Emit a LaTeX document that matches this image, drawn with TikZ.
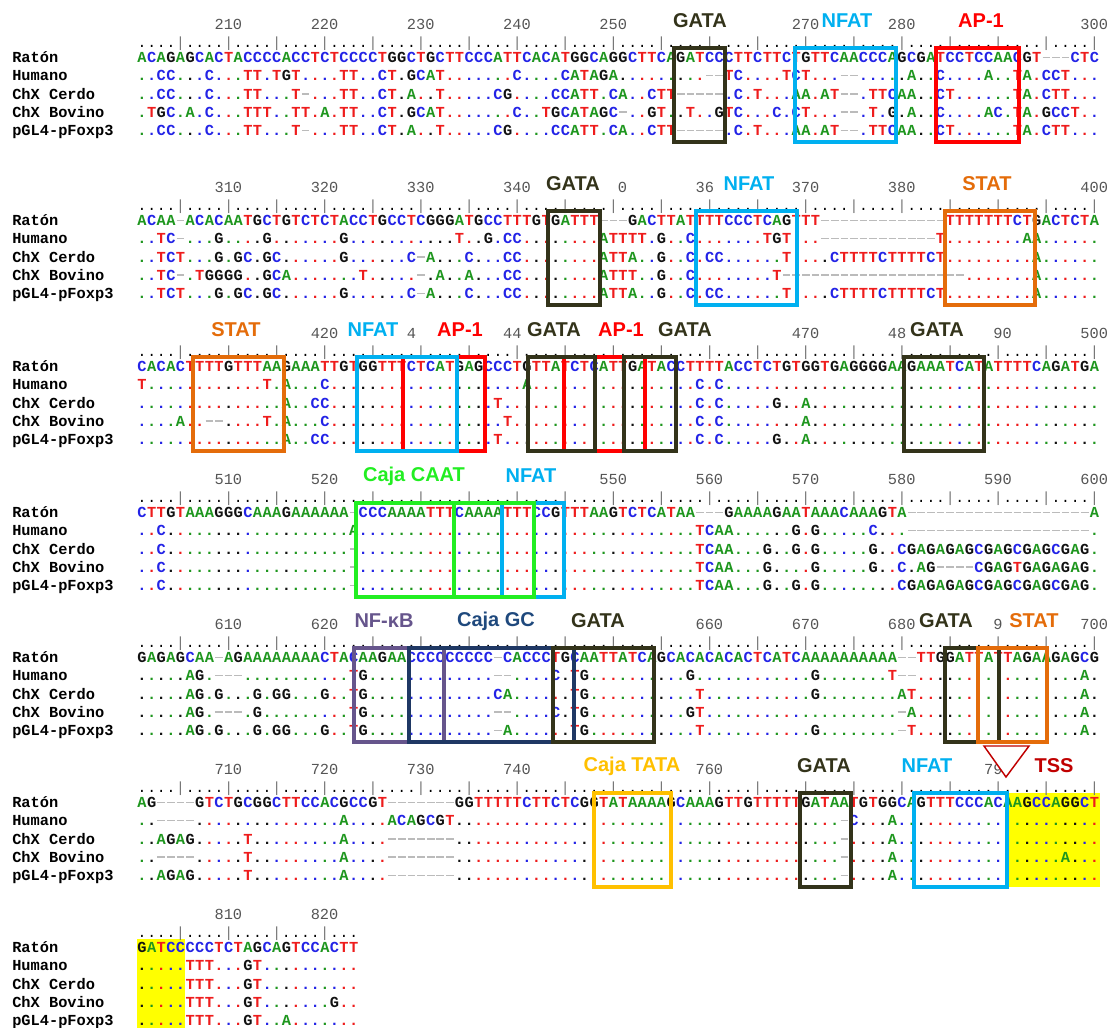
\documentclass[tikz,border=0pt]{standalone}
\usepackage{fontspec}
\usepackage{xcolor}
\usepackage{tikz}
\usetikzlibrary{positioning}
\setmainfont{Liberation Sans}
\newfontfamily\seqfont{Liberation Mono}

% nucleotide colours (ClustalX-like)
\definecolor{ntA}{HTML}{1E961E}
\definecolor{ntC}{HTML}{2323E6}
\definecolor{ntG}{HTML}{111111}
\definecolor{ntT}{HTML}{EE1C1C}
\definecolor{gapgray}{HTML}{BBBBBB}
\definecolor{rulegray}{HTML}{777777}
\definecolor{numgray}{HTML}{555555}
% binding-site colours
\definecolor{gata}{HTML}{33331A}
\definecolor{nfat}{HTML}{00B0F0}
\definecolor{apone}{HTML}{FF0000}
\definecolor{stat}{HTML}{E46C0A}
\definecolor{caat}{HTML}{22EE22}
\definecolor{nfkb}{HTML}{66558C}
\definecolor{gcbox}{HTML}{1F3864}
\definecolor{gctext}{HTML}{1F497D}
\definecolor{tata}{HTML}{FFC000}
\definecolor{tss}{HTML}{C00000}
\definecolor{hilite}{HTML}{FFFF00}

\ExplSyntaxOn
\dim_new:N \l_aln_w_dim
\dim_set:Nn \l_aln_w_dim { 7.215pt }
\str_new:N \l_aln_ref_str
\str_new:N \l_aln_row_str
\tl_new:N \l_aln_c_tl
\tl_new:N \l_aln_r_tl
\tl_new:N \l_aln_col_tl
\cs_new_protected:Npn \aln_setcol:n #1
  {
    \str_case:nnF {#1}
      {
        { A } { \tl_set:Nn \l_aln_col_tl { ntA } }
        { C } { \tl_set:Nn \l_aln_col_tl { ntC } }
        { T } { \tl_set:Nn \l_aln_col_tl { ntT } }
      }
      { \tl_set:Nn \l_aln_col_tl { ntG } }
  }
\cs_generate_variant:Nn \aln_setcol:n { V }
% one row: dots take the colour of the reference base
\NewDocumentCommand \alnrow { m m }
  {
    \str_set:Nn \l_aln_ref_str {#1}
    \str_set:Nn \l_aln_row_str {#2}
    \int_step_inline:nn { \str_count:N \l_aln_row_str }
      {
        \tl_set:Nx \l_aln_c_tl { \str_item:Nn \l_aln_row_str {##1} }
        \tl_set:Nx \l_aln_r_tl { \str_item:Nn \l_aln_ref_str {##1} }
        \str_if_eq:VnTF \l_aln_c_tl { . }
          { \aln_setcol:V \l_aln_r_tl }
          { \aln_setcol:V \l_aln_c_tl }
        \str_if_eq:VnTF \l_aln_c_tl { - }
          {
            \makebox [ \l_aln_w_dim ] [ c ]
              { \color { gapgray } \rule [ 0.28em ] { 0.5em } { 0.11em } }
          }
          {
            \makebox [ \l_aln_w_dim ] [ c ]
              { \color { \l_aln_col_tl } \l_aln_c_tl }
          }
      }
  }
% ruler: ....|....|
\NewDocumentCommand \alnruler { m }
  {
    \int_step_inline:nn {#1}
      {
        \int_compare:nNnTF { \int_mod:nn {##1} { 5 } } = { 0 }
          { \makebox [ \l_aln_w_dim ] [ c ] { \color { rulegray } | } }
          { \makebox [ \l_aln_w_dim ] [ c ] { . } }
      }
  }
\ExplSyntaxOff

\tikzset{
  seqrow/.style={anchor=base west, inner sep=0pt,
    font=\seqfont\bfseries\fontsize{11.5}{12}\selectfont},
  seqname/.style={anchor=base west, inner sep=0pt,
    font=\seqfont\bfseries\fontsize{11.5}{12}\selectfont, text=black},
  rulerrow/.style={anchor=base west, inner sep=0pt,
    font=\seqfont\fontsize{11}{12}\selectfont},
  rulernum/.style={inner sep=0pt, text=numgray,
    font=\seqfont\fontsize{11.5}{12}\selectfont},
  tfbox/.style={line width=2.6pt},
  tflabel/.style={font=\bfseries\fontsize{15}{16}\selectfont,
    fill=white, inner xsep=2pt, inner ysep=1pt},
  tssmark/.style={draw=tss, fill=white, line width=1.1pt, line join=miter},
  hibox/.style={fill=hilite, draw=none},
}

% block: id, y of Raton row, length, five rows
\newcommand\seqblock[8]{%
  \node[rulerrow] (#1ruler) at (137,#2-11) {\alnruler{#3}};
  \node[seqname] (#1nr) at (12,#2+4.5)       {Ratón};
  \node[seqname] (#1nh) at (12,#2+22.75)     {Humano};
  \node[seqname] (#1nc) at (12,#2+41)        {ChX Cerdo};
  \node[seqname] (#1nb) at (12,#2+59.25)     {ChX Bovino};
  \node[seqname] (#1np) at (12,#2+77.5)      {pGL4-pFoxp3};
  \node[seqrow]  (#1sr) at (137,#2+4.5)      {\alnrow{#4}{#4}};
  \node[seqrow]  (#1sh) at (137,#2+22.75)    {\alnrow{#4}{#5}};
  \node[seqrow]  (#1sc) at (137,#2+41)       {\alnrow{#4}{#6}};
  \node[seqrow]  (#1sb) at (137,#2+59.25)    {\alnrow{#4}{#7}};
  \node[seqrow]  (#1sp) at (137,#2+77.5)     {\alnrow{#4}{#8}};
}
% ruler number over column k of a block
\newcommand\colx[1]{137+(#1-0.5)*9.62}

\begin{document}
\begin{tikzpicture}[x=0.75pt, y=-0.75pt]
\useasboundingbox (0,0) rectangle (1108,1028);

% highlighted region after the TSS
\fill[hibox] (1005,793) rectangle (1100,887);
\fill[hibox] (137,939) rectangle (185,1028);

% alignment blocks
\seqblock{b1}{58}{100}
  {ACAGAGCACTACCCCACCTCTCCCCTGGCTGCTTCCCATTCACATGGCAGGCTTCAGATCCCTTCTTCTGTTCAACCCAGCGATCCTCCAACGT---CTC}
  {..CC...C...TT.TGT....TT..CT.GCAT.......C....CATAGA.........--TC....TCT...--.....A..C....A..TA.CCT...}
  {..CC...C...TT...T-...TT..CT.A..T.....CG....CCATT.CA..CTT-----.C.T...AA.AT--.TTCAA..CT......TA.CTT...}
  {.TGC.A.C...TTT..TT.A.TT..CT.GCAT.......C..TGCATAGC-..GT..T..GTC...C.CT...--.T.G.A..C....AC.TA.GCCT..}
  {..CC...C...TT...T-...TT..CT.A..T.....CG....CCATT.CA..CTT-----.C.T...AA.AT--.TTCAA..CT......TA.CTT...}

\seqblock{b2}{221}{100}
  {ACAA-ACACAATGCTGTCTCTACCTGCCTCGGGATGCCTTTGTGATTT---GACTTATTTTCCCTCAGTTT-------------TTTTTTTCTGACTCTA}
  {..TC-...G....G.......G...........T..G.CC........ATTTT.G..C.......TGT...------------T........AA......}
  {..TCT...G.GC.GC......G......C-A...C...CC........ATTA..G..C.CC......T....CTTTTCTTTTCT.........A......}
  {..TC-.TGGGG..GCA.......T.....-.A..A...CC........ATTT..G..C........T-------------------.......A......}
  {..TCT...G.GC.GC......G......C-A...C...CC........ATTA..G..C.CC......T....CTTTTCTTTTCT.........A......}

\seqblock{b3}{367}{100}
  {CACACTTTTGTTTAAGAAATTGTGGTTTCTCATGAGCCCTGTTATCTCATTGATACCTTTTACCTCTGTGGTGAGGGGAAGAAATCATATTTTCAGATGA}
  {T............T.A...C....................A.................C.C.......................................}
  {...............A..CC.................T....................C.C.....G..A..............................}
  {....A..--....T.A...C..................T...................C.C........A..............................}
  {...............A..CC.................T....................C.C.....G..A..............................}

\seqblock{b4}{513}{100}
  {CTTGTAAAGGGCAAAGAAAAAA-CCCAAAATTTCAAAATTTCCGTTTAAGTCTCATAA---GAAAAGAATAAACAAAGTA-------------------A}
  {..C...................A...................................TCAA......G.G.....C...-------------------.}
  {..C...................-...................................TCAA...G..G.G.....G..CGAGAGAGCGAGCGAGCGAG.}
  {..C...................-...................................TCAA...G....G.....G..C.AG----CGAGTGAGAGAG.}
  {..C...................-...................................TCAA...G..G.G........CGAGAGAGCGAGCGAGCGAG.}

\seqblock{b5}{658}{100}
  {GAGAGCAA-AGAAAAAAAACTACAAGAACCCCCCCCC-CACCCTGCAATTATCAGCACACACACTCATCAAAAAAAAAA--TTGGATTATTAGAAGAGCG}
  {.....AG.---...........TG.............--....C.TG..........G............G.......T--.................A.}
  {.....AG.G...G.GG...G..TG.............CA......TG...........T...........G........AT.................A.}
  {.....AG.---.G.........TG.............--....C.TG..........GT....................-A.................A.}
  {.....AG.G...G.GG...G..TG.............-A......TG...........T...........G........-T.................A.}

\seqblock{b6}{803}{100}
  {AG----GTCTGCGGCTTCCACGCCGT-------GGTTTTTCTTCTCGGTATAAAAGCAAAGTTGTTTTTGATAATGTGGCAGTTTCCCACAAGCCAGGCT}
  {..----...............A....ACAGCGT........................................-C...A.....................}
  {..AGAG.....T.........A....-------........................................-....A.....................}
  {..----.....T.........A....-------........................................-....A.................A...}
  {..AGAG.....T.........A....-------........................................-....A.....................}

\seqblock{b7}{948}{23}
  {GATCCCCCTCTAGCAGTCCACTT}
  {.....TTT...GT..........}
  {.....TTT...GT..........}
  {.....TTT...GT.......G..}
  {.....TTT...GT..A.......}

% ruler numbers (as far as they show past the site labels)
\foreach \k/\t in {10/210, 20/220, 30/230, 40/240, 50/250, 70/270, 80/280, 100/300}
  \node[rulernum] (b1num\k) at ({\colx{\k}},24) {\t};
\foreach \k/\t in {10/310, 20/320, 30/330, 40/340, 50/{\phantom{35}0},
                   60/{36\phantom{0}}, 70/370, 80/380, 100/400}
  \node[rulernum] (b2num\k) at ({\colx{\k}},187) {\t};
\foreach \k/\t in {20/420, 30/{4\phantom{30}}, 40/{44\phantom{0}}, 70/470,
                   80/{48\phantom{0}}, 90/{\phantom{4}90}, 100/500}
  \node[rulernum] (b3num\k) at ({\colx{\k}},333) {\t};
\foreach \k/\t in {10/510, 20/520, 50/550, 60/560, 70/570, 80/580, 90/590, 100/600}
  \node[rulernum] (b4num\k) at ({\colx{\k}},479) {\t};
\foreach \k/\t in {10/610, 20/620, 60/660, 70/670, 80/680,
                   90/{\phantom{6}9\phantom{0}}, 100/700}
  \node[rulernum] (b5num\k) at ({\colx{\k}},624) {\t};
\foreach \k/\t in {10/710, 20/720, 30/730, 40/740, 60/760, 90/{79\phantom{0}}}
  \node[rulernum] (b6num\k) at ({\colx{\k}},769) {\t};
\foreach \k/\t in {10/810, 20/820}
  \node[rulernum] (b7num\k) at ({\colx{\k}},914) {\t};

% binding-site boxes, block 1
\draw[tfbox, gata]  (674,48) rectangle (725,142);
\draw[tfbox, nfat]  (795,48) rectangle (896,142);
\draw[tfbox, apone] (936,48) rectangle (1019,142);

% block 2
\draw[tfbox, gata]  (548,211) rectangle (600,305);
\draw[tfbox, nfat]  (696,211) rectangle (797,305);
\draw[tfbox, stat]  (945,211) rectangle (1035,305);

% block 3
\draw[tfbox, stat]  (193,357) rectangle (284,451);
\draw[tfbox, apone] (403,357) rectangle (485,451);
\draw[tfbox, nfat]  (357,357) rectangle (457,451);
\draw[tfbox, apone] (564,357) rectangle (645,451);
\draw[tfbox, gata]  (528,357) rectangle (595,451);
\draw[tfbox, gata]  (624,357) rectangle (676,451);
\draw[tfbox, gata]  (904,357) rectangle (984,451);

% block 4
\draw[tfbox, nfat]  (502,503) rectangle (564,597);
\draw[tfbox, caat]  (356,503) rectangle (454,597);
\draw[tfbox, caat]  (454,503) rectangle (534,597);

% block 5
\draw[tfbox, nfkb]  (354,648) rectangle (444,742);
\draw[tfbox, gcbox] (409,648) rectangle (574,742);
\draw[tfbox, gata]  (553,648) rectangle (654,742);
\draw[tfbox, gata]  (945,648) rectangle (999,742);
\draw[tfbox, stat]  (978,648) rectangle (1047,742);

% block 6
\draw[tfbox, tata]  (594,793) rectangle (671,887);
\draw[tfbox, gata]  (800,793) rectangle (851,887);
\draw[tfbox, nfat]  (914,793) rectangle (1007,887);

% site labels
\node[tflabel, text=gata]  (l1gata) at (700,21) {GATA};
\node[tflabel, text=nfat]  (l1nfat) at (847,21) {NFAT};
\node[tflabel, text=apone] (l1ap)   at (981,21) {AP-1};

\node[tflabel, text=gata]  (l2gata) at (573,184) {GATA};
\node[tflabel, text=nfat]  (l2nfat) at (749,184) {NFAT};
\node[tflabel, text=stat]  (l2stat) at (987,184) {STAT};

\node[tflabel, text=stat]  (l3stat)  at (236,330) {STAT};
\node[tflabel, text=nfat]  (l3nfat)  at (373,330) {NFAT};
\node[tflabel, text=apone] (l3apa)   at (460,330) {AP-1};
\node[tflabel, text=gata]  (l3gataa) at (554,330) {GATA};
\node[tflabel, text=apone] (l3apb)   at (621,330) {AP-1};
\node[tflabel, text=gata]  (l3gatab) at (685,330) {GATA};
\node[tflabel, text=gata]  (l3gatac) at (937,330) {GATA};

\node[tflabel, text=caat]  (l4caat) at (414,476) {Caja CAAT};
\node[tflabel, text=nfat]  (l4nfat) at (531,476) {NFAT};

\node[tflabel, text=nfkb]   (l5nfkb)  at (384,621) {NF-κB};
\node[tflabel, text=gctext] (l5gc)    at (496,621) {Caja GC};
\node[tflabel, text=gata]   (l5gataa) at (598,621) {GATA};
\node[tflabel, text=gata]   (l5gatab) at (946,621) {GATA};
\node[tflabel, text=stat]   (l5stat)  at (1034,621) {STAT};

\node[tflabel, text=tata]  (l6tata) at (632,766) {Caja TATA};
\node[tflabel, text=gata]  (l6gata) at (824,766) {GATA};
\node[tflabel, text=nfat]  (l6nfat) at (927,766) {NFAT};
\node[tflabel, text=tss]   (l6tss)  at (1054,766) {TSS};

% transcription start mark
\draw[tssmark] (984,746) -- (1029,746) -- (1006,777) -- cycle;

\end{tikzpicture}
\end{document}
